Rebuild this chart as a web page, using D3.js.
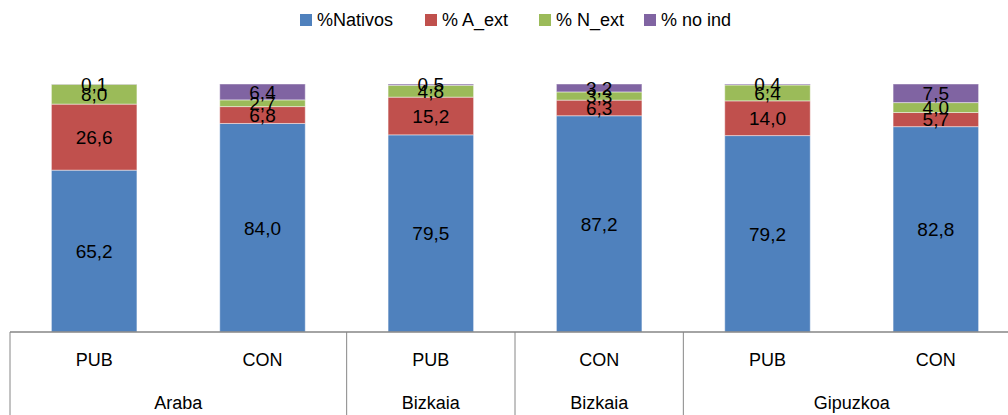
<!DOCTYPE html>
<html>
<head>
<meta charset="utf-8">
<script src="https://cdn.jsdelivr.net/npm/d3@7"></script>
<style>
  body { margin: 0; background: #fff; }
  svg text { font-family: "Liberation Sans", Arial, sans-serif; fill: #000; }
</style>
</head>
<body>
<svg id="chart" width="1008" height="415"></svg>
<script>
// chart data
const regions = ["Araba", "Araba", "Bizkaia", "Bizkaia", "Gipuzkoa", "Gipuzkoa"];
const types = ["PUB", "CON", "PUB", "CON", "PUB", "CON"];
const groupLabels = ["Araba", "Bizkaia", "Bizkaia", "Gipuzkoa"];
const groupSizes = [2, 1, 1, 2];
const seriesNames = ["%Nativos", "% A_ext", "% N_ext", "% no ind"];
const nativos = [65.2, 84.0, 79.5, 87.2, 79.2, 82.8];
const aExt = [26.6, 6.8, 15.2, 6.3, 14.0, 5.7];
const nExt = [8.0, 2.7, 4.8, 3.3, 6.4, 4.0];
const noInd = [0.1, 6.4, 0.5, 3.2, 0.4, 7.5];
const colors = ["#4F81BD", "#C0504D", "#9BBB59", "#8064A2"];

const svg = d3.select("#chart");
const MARGIN = { left: 10, right: -12, top: 84, bottom: 83 };
const W = 1008, H = 415;
const axisY = H - MARGIN.bottom;

// one row per bar
const rows = types.map((t, i) => ({
  id: i,
  vals: [nativos[i], aExt[i], nExt[i], noInd[i]],
}));

const x = d3.scaleBand()
  .domain(rows.map((d) => d.id))
  .range([MARGIN.left, W - MARGIN.right])
  .paddingInner(0.492)
  .paddingOuter(0.246);

const y = d3.scaleLinear().domain([0, 100]).range([axisY, MARGIN.top]);

// normalise to 100% and stack
const stacked = rows.map((r) => {
  const total = d3.sum(r.vals);
  let acc = 0;
  return r.vals.map((v, k) => {
    const y0 = (acc / total) * 100;
    acc += v;
    return { id: r.id, k, v, y0, y1: (acc / total) * 100 };
  });
});

const barGrp = svg.append("g").attr("class", "bars");
barGrp.selectAll("g.bar")
  .data(stacked)
  .enter()
  .append("g")
  .attr("class", "bar")
  .selectAll("rect")
  .data((d) => d)
  .enter()
  .append("rect")
  .attr("x", (d) => x(d.id))
  .attr("width", x.bandwidth())
  .attr("y", (d) => y(d.y1))
  .attr("height", (d) => y(d.y0) - y(d.y1))
  .style("fill", (d) => colors[d.k])
  .style("stroke", "rgba(255,255,255,0.45)")
  .style("stroke-width", 1);

// value labels
const lblGrp = svg.append("g").attr("class", "labels");
lblGrp.selectAll("text")
  .data(stacked.flat())
  .enter()
  .append("text")
  .attr("x", (d) => x(d.id) + x.bandwidth() / 2)
  .attr("y", (d) => (y(d.y0) + y(d.y1)) / 2)
  .attr("dy", "0.36em")
  .attr("text-anchor", "middle")
  .style("font-size", "19px")
  .text((d) => d3.format(".1f")(d.v).replace(".", ","));

// category axis
const axisGrp = svg.append("g").attr("class", "axis");
axisGrp.append("line")
  .attr("x1", MARGIN.left).attr("x2", W)
  .attr("y1", axisY).attr("y2", axisY)
  .style("stroke", "#868686").style("stroke-width", 1.5);

const step = x.step();
let start = 0;
const groups = groupLabels.map((g, i) => {
  const o = { label: g, start, end: start + groupSizes[i] };
  start += groupSizes[i];
  return o;
});

// group separators
axisGrp.selectAll("line.sep")
  .data(groups)
  .enter()
  .append("line")
  .attr("class", "sep")
  .attr("x1", (d) => MARGIN.left + d.start * step)
  .attr("x2", (d) => MARGIN.left + d.start * step)
  .attr("y1", axisY).attr("y2", H)
  .style("stroke", "#868686").style("stroke-width", 1);

axisGrp.selectAll("text.type")
  .data(types)
  .enter()
  .append("text")
  .attr("class", "type")
  .attr("x", (d, i) => x(i) + x.bandwidth() / 2)
  .attr("y", axisY + 28)
  .attr("dy", "0.36em")
  .attr("text-anchor", "middle")
  .style("font-size", "18px")
  .text((d) => d);

axisGrp.selectAll("text.group")
  .data(groups)
  .enter()
  .append("text")
  .attr("class", "group")
  .attr("x", (d) => MARGIN.left + ((d.start + d.end) / 2) * step)
  .attr("y", axisY + 71)
  .attr("dy", "0.36em")
  .attr("text-anchor", "middle")
  .style("font-size", "18px")
  .text((d) => d.label);

// legend
const legendX = [300, 425, 539, 644];
const legend = svg.append("g").attr("class", "legend")
  .selectAll("g")
  .data(seriesNames)
  .enter()
  .append("g")
  .attr("transform", (d, i) => `translate(${legendX[i]}, 20)`);
legend.append("rect")
  .attr("x", 0).attr("y", -6)
  .attr("width", 12).attr("height", 12)
  .style("fill", (d, i) => colors[i]);
legend.append("text")
  .attr("x", 17)
  .attr("dy", "0.36em")
  .style("font-size", "18px")
  .text((d) => d);
</script>
</body>
</html>
